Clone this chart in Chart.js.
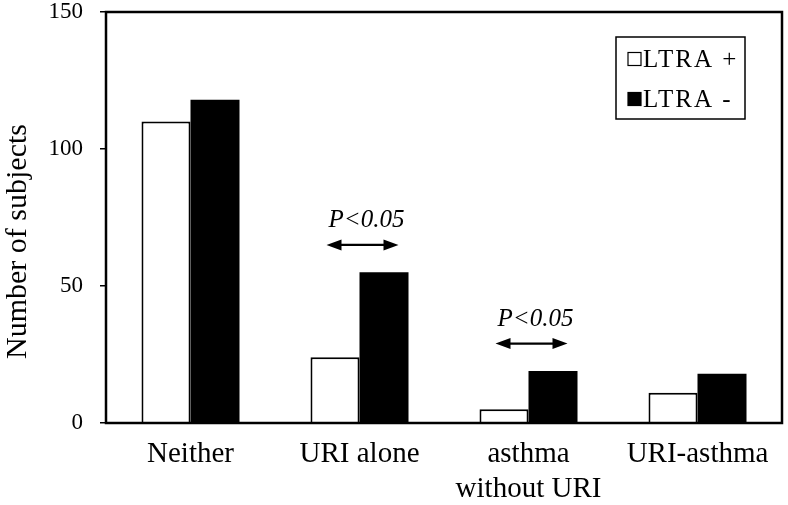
<!DOCTYPE html>
<html>
<head>
<meta charset="utf-8">
<script src="https://cdn.jsdelivr.net/npm/chart.js@4/dist/chart.umd.min.js"></script>
<style>
  html, body { margin: 0; padding: 0; background: #fff; }
</style>
</head>
<body>
<canvas id="graficoSujetos" width="788" height="505"></canvas>
<script>
const categorias = ['Neither', 'URI alone', ['asthma', 'without URI'], 'URI-asthma'];
const etiquetas = ['LTRA +', 'LTRA -'];
const ltraPos = [110, 24, 5, 11];
const ltraNeg = [118, 55, 19, 18];
const ticksY = [0, 50, 100, 150];
const tituloY = 'Number of subjects';
// comparaciones significativas: categoria y nivel (en sujetos) de la flecha
const sigIndices = [1, 2];
const sigNiveles = [65, 29];
const sigTexto = 'P<0.05';

const serif = "'Liberation Serif', 'Times New Roman', serif";

// marco, titulo del eje, leyenda y flechas de significancia
const extras = {
  id: 'extras',
  afterDraw(chart) {
    const ctx = chart.ctx;
    const ca = chart.chartArea;
    const x = chart.scales.x;
    const y = chart.scales.y;
    ctx.save();

    // marco
    ctx.strokeStyle = '#000';
    ctx.lineWidth = 2.5;
    ctx.strokeRect(ca.left, ca.top, ca.right - ca.left, ca.bottom - ca.top);

    // titulo eje y
    ctx.fillStyle = '#000';
    ctx.font = '30px ' + serif;
    ctx.textAlign = 'center';
    ctx.textBaseline = 'middle';
    ctx.translate(18, (ca.top + ca.bottom) / 2 + 24);
    ctx.rotate(-Math.PI / 2);
    ctx.fillText(tituloY, 0, 0);
    ctx.setTransform(1, 0, 0, 1, 0, 0);

    // leyenda
    const bx = ca.right - 166, by = ca.top + 25, bw = 129, bh = 82;
    ctx.lineWidth = 1.5;
    ctx.strokeRect(bx, by, bw, bh);
    ctx.font = '25px ' + serif;
    ctx.textAlign = 'left';
    ctx.letterSpacing = '2px';
    chart.data.datasets.forEach((ds, i) => {
      const cy = by + 22 + i * 40;
      ctx.fillStyle = ds.backgroundColor;
      ctx.fillRect(bx + 12, cy - 6.5, 13, 13);
      ctx.lineWidth = 1.2;
      ctx.strokeRect(bx + 12, cy - 6.5, 13, 13);
      ctx.fillStyle = '#000';
      ctx.fillText(ds.label, bx + 27, cy + 1);
    });
    ctx.letterSpacing = '0px';

    // flechas de significancia
    ctx.font = 'italic 25px ' + serif;
    ctx.textAlign = 'center';
    ctx.textBaseline = 'alphabetic';
    sigIndices.forEach((idx, k) => {
      const cx = x.getPixelForValue(idx);
      const ay = y.getPixelForValue(sigNiveles[k]);
      const x1 = cx - 33, x2 = cx + 39;
      ctx.strokeStyle = '#000';
      ctx.lineWidth = 2.2;
      ctx.beginPath();
      ctx.moveTo(x1 + 8, ay);
      ctx.lineTo(x2 - 8, ay);
      ctx.stroke();
      ctx.beginPath();
      ctx.moveTo(x1, ay);
      ctx.lineTo(x1 + 15, ay - 5.5);
      ctx.lineTo(x1 + 15, ay + 5.5);
      ctx.closePath();
      ctx.moveTo(x2, ay);
      ctx.lineTo(x2 - 15, ay - 5.5);
      ctx.lineTo(x2 - 15, ay + 5.5);
      ctx.closePath();
      ctx.fill();
      ctx.fillText(sigTexto, cx + 7, ay - 18);
    });

    ctx.restore();
  }
};

const ctx = document.getElementById('graficoSujetos').getContext('2d');
new Chart(ctx, {
  type: 'bar',
  data: {
    labels: categorias,
    datasets: [
      {
        label: etiquetas[0],
        data: ltraPos,
        backgroundColor: '#ffffff',
        borderColor: '#000000',
        borderWidth: 2,
        categoryPercentage: 0.58,
        barPercentage: 1
      },
      {
        label: etiquetas[1],
        data: ltraNeg,
        backgroundColor: '#000000',
        borderColor: '#000000',
        borderWidth: 0,
        categoryPercentage: 0.58,
        barPercentage: 1
      }
    ]
  },
  options: {
    responsive: false,
    animation: false,
    layout: { padding: { top: 12, right: 6, left: 0, bottom: 0 } },
    plugins: {
      legend: { display: false },
      tooltip: { enabled: false }
    },
    scales: {
      x: {
        grid: { display: false },
        border: { display: false },
        ticks: {
          color: '#000',
          font: { family: serif, size: 29 },
          padding: 6,
          maxRotation: 0,
          autoSkip: false
        },
        afterFit(scale) {
          scale.height = 505 - 423;
          scale.paddingLeft = 0;
          scale.paddingRight = 0;
        }
      },
      y: {
        min: 0,
        max: 150,
        afterBuildTicks(scale) { scale.ticks = ticksY.map(v => ({ value: v })); },
        grid: {
          drawOnChartArea: false,
          tickLength: 6,
          color: '#000',
          lineWidth: 1.5
        },
        border: { display: false },
        ticks: {
          color: '#000',
          font: { family: serif, size: 23 },
          padding: 17
        },
        afterFit(scale) {
          scale.width = 106;
          scale.paddingTop = 0;
          scale.paddingBottom = 0;
        }
      }
    }
  },
  plugins: [extras]
});
</script>
</body>
</html>
